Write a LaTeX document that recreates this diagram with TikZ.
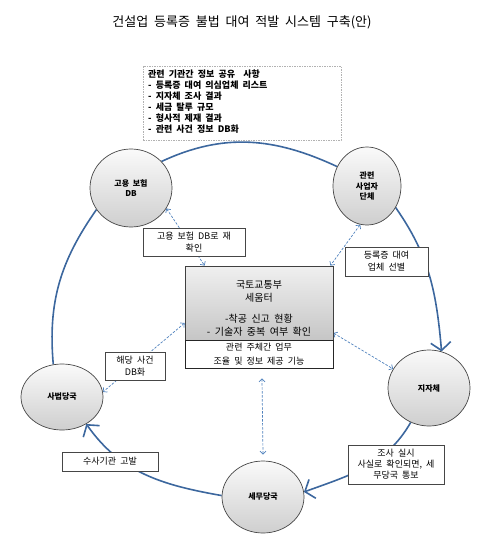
\documentclass[tikz,border=0pt]{standalone}
\usepackage{fontspec}
\setmainfont{Noto Sans CJK KR}[WordSpace=2]
\usetikzlibrary{shapes.geometric,arrows.meta}
\pgfdeclarelayer{bg}
\pgfsetlayers{bg,main}
\definecolor{arcblue}{RGB}{60,103,158}
\definecolor{dblue}{RGB}{79,129,189}
\begin{document}
\begin{tikzpicture}[x=1pt,y=-1pt,
  actor/.style={ellipse, draw=gray!55!black, line width=0.7pt, top color=gray!4, bottom color=gray!38, inner sep=0pt, font=\fontsize{8}{10.5}\selectfont\bfseries, align=center},
  lbl/.style={rectangle, draw=gray!55!black, line width=0.6pt, fill=white, inner sep=0pt, align=center, font=\fontsize{9}{12}\selectfont},
  cyc/.style={draw=arcblue, line width=1.6pt},
  cyca/.style={cyc, -{Straight Barb[length=8pt,width=20pt]}},
  darr/.style={draw=dblue, line width=0.7pt, dash pattern=on 2.5pt off 1.5pt, {Straight Barb[length=3pt,width=6pt]}-{Straight Barb[length=3pt,width=6pt]}}
]
\useasboundingbox (0,0) rectangle (498,554);
\node (title) at (242,22) {\fontsize{13}{15}\selectfont 건설업 등록증 불법 대여 적발 시스템 구축(안)};

\node[draw=gray!60, dash pattern=on 1.5pt off 1pt, line width=0.6pt, minimum width=198pt, minimum height=74pt, inner sep=0] (info) at (242,103) {};
\node[anchor=north west, align=left, inner sep=0, font=\fontsize{9}{10.9}\selectfont\bfseries] (infotext) at (148,70) {관련 기관간 정보 공유 \ 사항\\- 등록증 대여 의심업체 리스트\\- 지자체 조사 결과\\- 세금 탈루 규모\\- 형사적 제재 결과\\- 관련 사건 정보 DB화};

\node[actor, minimum width=82pt, minimum height=78pt] (emp) at (131,188) {고용 보험\\DB};
\node[actor, minimum width=68pt, minimum height=78pt] (assoc) at (367,186) {관련\\사업자\\단체};
\node[actor, minimum width=82pt, minimum height=76pt] (local) at (429,388) {지자체};
\node[actor, minimum width=82pt, minimum height=66pt] (court) at (62,397) {사법당국};
\node[actor, minimum width=82pt, minimum height=72pt] (tax) at (263,497) {세무당국};

\node[draw=gray!50!black, line width=0.7pt, top color=gray!12, bottom color=gray!45, minimum width=148pt, minimum height=74pt, inner sep=0] (main) at (259,303) {};
\node[align=center, inner sep=0, font=\fontsize{10}{13}\selectfont] (maintext) at (259,308) {국토교통부\\세움터\\[8pt]-착공 신고 현황\\- 기술자 중복 여부 확인};
\node[draw=gray!30!black, line width=0.7pt, fill=white, minimum width=148pt, minimum height=28pt, inner sep=0, align=center, font=\fontsize{9}{14.5}\selectfont] (sub) at (259,354) {관련 주체간 업무\\조율 및 정보 제공 기능};

\node[lbl, minimum width=102pt, minimum height=28pt] (l1) at (194,242) {고용 보험 DB로 재\\확인};
\node[lbl, minimum width=83pt, minimum height=29pt] (l2) at (386.5,261.5) {등록증 대여\\업체 선별};
\node[lbl, minimum width=60pt, minimum height=28pt] (l3) at (135,366) {해당 사건\\DB화};
\node[lbl, minimum width=96pt, minimum height=19pt] (l4) at (110,461.5) {수사기관 고발};
\node[lbl, minimum width=96pt, minimum height=39pt, font=\fontsize{9}{11}\selectfont] (l5) at (396,464.5) {조사 실시\\사실로 확인되면, 세\\무당국 통보};

\begin{pgfonlayer}{bg}
\draw[cyc] (emp.41) to[out=25,in=155] (assoc.147);
\draw[cyca] (assoc.-37) to[out=-55,in=95] (local.71);
\draw[cyca] (local.-118) to[out=-120,in=20] (tax.7);
\draw[cyca] (tax.178) to[out=170,in=-55] (court.-48);
\draw[cyc] (court.105) to[out=95,in=-125] (emp.212);
\draw[darr] (emp.-30) -- ([xshift=20pt]main.north west);
\draw[darr] (assoc.-100) -- ([xshift=-3pt]main.north east);
\draw[darr] ([yshift=-20pt]main.west) -- (court.7);
\draw[darr] ([yshift=-30pt]main.east) -- (local.152);
\draw[darr] ([xshift=3pt,yshift=-10pt]sub.south) -- ([yshift=6pt]tax.north);
\end{pgfonlayer}
\end{tikzpicture}
\end{document}
